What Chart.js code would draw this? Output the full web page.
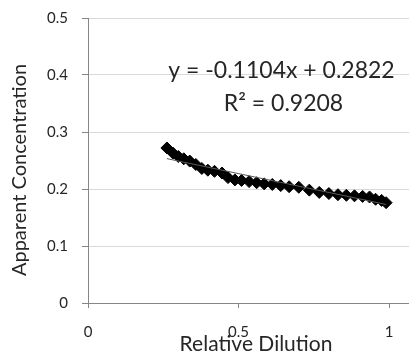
<!DOCTYPE html>
<html>
<head>
<meta charset="utf-8">
<script src="https://cdn.jsdelivr.net/npm/chart.js@4"></script>
<style>
  html, body { margin: 0; padding: 0; background: #fff; }
  #wrap { width: 409px; height: 355px; position: relative; }
</style>
</head>
<body>
<div id="wrap"><canvas id="c" width="409" height="355"></canvas></div>
<script>
// Relative dilution vs. apparent concentration
const dilution = [0.262, 0.282, 0.300, 0.318, 0.338, 0.358, 0.378, 0.398, 0.420, 0.445,
                  0.465, 0.488, 0.510, 0.535, 0.560, 0.585, 0.612, 0.640, 0.668, 0.700,
                  0.735, 0.768, 0.800, 0.830, 0.858, 0.885, 0.912, 0.935, 0.955, 0.975, 0.990];
const concentration = [0.272, 0.263, 0.257, 0.253, 0.249, 0.243, 0.236, 0.233, 0.231, 0.228,
                       0.220, 0.216, 0.215, 0.213, 0.211, 0.209, 0.208, 0.206, 0.204, 0.203,
                       0.198, 0.194, 0.192, 0.190, 0.189, 0.188, 0.187, 0.186, 0.182, 0.180, 0.176];
const xTicks = [0, 0.5, 1];
const yTicks = [0, 0.1, 0.2, 0.3, 0.4, 0.5];

// Linear fit shown on the chart
const slope = -0.1104;
const intercept = 0.2822;
const rSquared = 0.9208;

const xTitle = 'Relative Dilution';
const yTitle = 'Apparent Concentration';
const eqText = 'y = ' + slope.toFixed(4) + 'x + ' + intercept.toFixed(4);
const r2Text = 'R\u00B2 = ' + rSquared.toFixed(4);

const fitX = [Math.min(...dilution), Math.max(...dilution)];
const fitPoints = fitX.map(x => ({ x: x, y: slope * x + intercept }));
const points = dilution.map((x, i) => ({ x: x, y: concentration[i] }));

const FONT = 'Lato, "Open Sans", "DejaVu Sans", sans-serif';
const TEXT = '#262626';
const AXIS = '#868686';

const textPlugin = {
  id: 'labels',
  afterDraw(chart) {
    const ctx = chart.ctx;
    ctx.save();
    ctx.fillStyle = TEXT;
    ctx.textAlign = 'center';
    ctx.textBaseline = 'alphabetic';

    ctx.font = '21px ' + FONT;
    ctx.fillText(xTitle, 256, 351, 156);

    ctx.font = '20px ' + FONT;
    ctx.save();
    ctx.translate(26, 170);
    ctx.rotate(-Math.PI / 2);
    ctx.fillText(yTitle, 0, 0, 224);
    ctx.restore();

    ctx.font = '23px ' + FONT;
    ctx.fillText(eqText, 281.5, 78, 237);
    ctx.fillText(r2Text, 283.5, 111, 123);
    ctx.restore();
  }
};

new Chart(document.getElementById('c'), {
  type: 'scatter',
  data: {
    datasets: [
      {
        label: 'Data',
        data: points,
        pointStyle: 'rectRot',
        radius: 6,
        backgroundColor: '#000000',
        borderColor: '#000000',
        borderWidth: 1,
        order: 2
      },
      {
        label: 'Fit',
        type: 'line',
        data: fitPoints,
        borderColor: '#5a5a5a',
        borderWidth: 1,
        pointRadius: 0,
        fill: false,
        order: 1
      }
    ]
  },
  options: {
    responsive: false,
    animation: false,
    events: [],
    layout: { autoPadding: false, padding: { top: 18, right: 0, left: 0, bottom: 0 } },
    plugins: { legend: { display: false }, tooltip: { enabled: false } },
    scales: {
      x: {
        type: 'linear',
        min: 0,
        max: 1.066,
        afterBuildTicks(axis) { axis.ticks = xTicks.map(v => ({ value: v })); },
        afterFit(axis) {
          axis.height = 52;
          axis.paddingLeft = 0;
          axis.paddingRight = 0;
        },
        grid: { drawOnChartArea: false, drawTicks: true, tickLength: 5, tickColor: AXIS },
        border: { color: AXIS, width: 1 },
        ticks: {
          color: TEXT,
          font: { family: FONT, size: 15 },
          padding: 15,
          maxRotation: 0,
          callback: v => String(v)
        }
      },
      y: {
        type: 'linear',
        min: 0,
        max: 0.5,
        afterBuildTicks(axis) { axis.ticks = yTicks.map(v => ({ value: v })); },
        afterFit(axis) {
          axis.width = 88;
          axis.paddingTop = 0;
          axis.paddingBottom = 0;
        },
        grid: { color: '#d9d9d9', drawTicks: true, tickLength: 6, tickColor: AXIS },
        border: { color: AXIS, width: 1 },
        ticks: {
          color: TEXT,
          font: { family: FONT, size: 15 },
          padding: 14,
          callback: v => String(v)
        }
      }
    }
  },
  plugins: [textPlugin]
});
</script>
</body>
</html>
